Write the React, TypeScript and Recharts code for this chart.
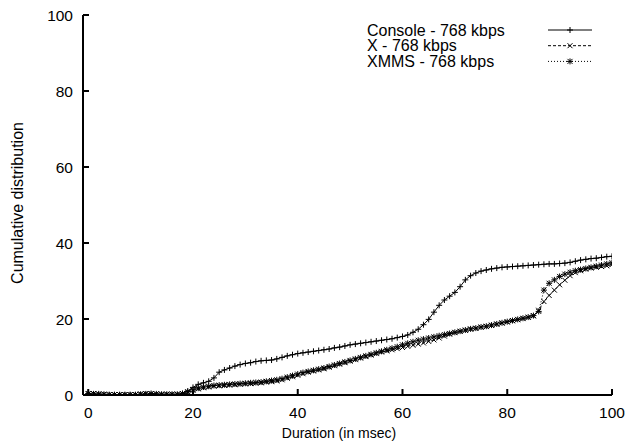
import React from 'react';
import { LineChart, Line, XAxis, YAxis, Customized } from 'recharts';

const FONT = "'Liberation Sans', Arial, Helvetica, sans-serif";

const durations: number[] = Array.from({ length: 101 }, (_, i) => i);

const consoleVals: number[] = [
  0.2, 0.1, 0.1, 0.0, 0.0, 0.0, 0.0, 0.0, 0.0, 0.0,
  0.0, 0.1, 0.1, 0.0, 0.0, 0.0, 0.0, 0.0, 0.3, 1.0,
  2.0, 2.8, 3.2, 3.6, 4.5, 6.0, 6.6, 7.1, 7.6, 8.0,
  8.3, 8.5, 8.8, 9.0, 9.1, 9.2, 9.5, 9.9, 10.3, 10.6,
  10.9, 11.1, 11.3, 11.5, 11.7, 11.9, 12.1, 12.4, 12.6, 12.9,
  13.2, 13.4, 13.6, 13.8, 14.0, 14.2, 14.4, 14.6, 14.8, 15.1,
  15.4, 15.8, 16.5, 17.3, 18.5, 19.9, 21.8, 23.6, 25.0, 26.0,
  27.0, 28.5, 30.3, 31.4, 32.1, 32.6, 32.9, 33.2, 33.4, 33.6,
  33.7, 33.8, 33.9, 34.0, 34.1, 34.2, 34.3, 34.4, 34.5, 34.5,
  34.6, 34.7, 34.9, 35.2, 35.5, 35.7, 35.9, 36.0, 36.2, 36.4, 36.5,
];

const xVals: number[] = [
  0.3, 0.4, 0.2, 0.2, 0.1, 0.1, 0.1, 0.1, 0.1, 0.1,
  0.3, 0.4, 0.3, 0.3, 0.2, 0.2, 0.2, 0.2, 0.3, 0.7,
  1.2, 1.6, 1.9, 2.1, 2.3, 2.4, 2.5, 2.6, 2.7, 2.8,
  2.9, 3.0, 3.1, 3.2, 3.4, 3.5, 3.7, 4.0, 4.4, 4.8,
  5.2, 5.6, 6.0, 6.3, 6.6, 6.9, 7.3, 7.7, 8.1, 8.5,
  8.9, 9.3, 9.7, 10.1, 10.5, 10.9, 11.3, 11.6, 11.9, 12.2,
  12.5, 12.8, 13.1, 13.4, 13.7, 14.1, 14.5, 15.0, 15.5, 16.0,
  16.4, 16.7, 17.0, 17.3, 17.5, 17.8, 18.0, 18.3, 18.6, 18.9,
  19.2, 19.5, 19.8, 20.1, 20.4, 20.8, 22.3, 24.6, 26.2, 27.6,
  29.0, 30.2, 31.4, 32.2, 32.7, 33.1, 33.4, 33.6, 33.8, 34.0, 34.3,
];

const xmmsVals: number[] = [
  0.4, 0.3, 0.3, 0.2, 0.1, 0.1, 0.1, 0.1, 0.1, 0.1,
  0.2, 0.3, 0.4, 0.3, 0.2, 0.2, 0.2, 0.2, 0.4, 0.9,
  1.4, 1.8, 2.1, 2.3, 2.5, 2.6, 2.7, 2.8, 2.9, 3.0,
  3.1, 3.2, 3.3, 3.4, 3.6, 3.8, 4.0, 4.3, 4.7, 5.1,
  5.5, 5.9, 6.2, 6.5, 6.8, 7.1, 7.5, 7.9, 8.3, 8.7,
  9.1, 9.5, 9.9, 10.3, 10.7, 11.1, 11.5, 11.9, 12.3, 12.7,
  13.2, 13.6, 14.0, 14.4, 14.7, 15.0, 15.3, 15.6, 15.9, 16.2,
  16.5, 16.8, 17.1, 17.4, 17.6, 17.9, 18.1, 18.4, 18.7, 19.0,
  19.3, 19.6, 19.9, 20.2, 20.5, 20.9, 22.0, 27.6, 29.4, 30.3,
  31.2, 31.8, 32.3, 32.7, 33.0, 33.3, 33.6, 33.9, 34.2, 34.5, 34.8,
];

const xTicks: number[] = [0, 20, 40, 60, 80, 100];
const yTicks: number[] = [0, 20, 40, 60, 80, 100];

const seriesNames = ['Console - 768 kbps', 'X - 768 kbps', 'XMMS - 768 kbps'];

const data = durations.map((d, i) => ({
  duration: d,
  console: consoleVals[i],
  x: xVals[i],
  xmms: xmmsVals[i],
}));

const plusPath = (cx: number, cy: number) => `M${cx - 3},${cy}h6M${cx},${cy - 3}v6`;
const crossPath = (cx: number, cy: number) =>
  `M${cx - 2.5},${cy - 2.5}l5,5M${cx - 2.5},${cy + 2.5}l5,-5`;
const starPath = (cx: number, cy: number) => plusPath(cx, cy) + crossPath(cx, cy);

const makeDot = (fn: (cx: number, cy: number) => string) => (p: any) => {
  const { cx, cy, index } = p;
  if (cx == null || cy == null || isNaN(cx) || isNaN(cy)) return <g key={`d${index}`} />;
  return <path key={`d${index}`} d={fn(cx, cy)} stroke="#000" strokeWidth={1} fill="none" />;
};

const LegendBox = () => {
  const rows = [
    { name: seriesNames[0], dash: undefined, fn: plusPath },
    { name: seriesNames[1], dash: '3 2', fn: crossPath },
    { name: seriesNames[2], dash: '1 2', fn: starPath },
  ];
  return (
    <g>
      {rows.map((r, i) => {
        const y = 30 + i * 15.7;
        return (
          <g key={r.name}>
            <text x={367} y={y + 5.5} fontSize={16} fontFamily={FONT} fill="#000">
              {r.name}
            </text>
            <line x1={548} x2={592} y1={y} y2={y} stroke="#000" strokeWidth={1} strokeDasharray={r.dash} />
            <path d={r.fn(570, y)} stroke="#000" strokeWidth={1} fill="none" />
          </g>
        );
      })}
      <text x={339} y={438} fontSize={14} fontFamily={FONT} fill="#000" textAnchor="middle">
        Duration (in msec)
      </text>
      <text
        x={0}
        y={0}
        fontSize={16}
        fontFamily={FONT}
        fill="#000"
        textAnchor="middle"
        transform="translate(23,203) rotate(-90)"
      >
        Cumulative distribution
      </text>
    </g>
  );
};

const tickStyle = { fill: '#000', fontSize: 15.5, fontFamily: FONT };

export default function App() {
  return (
    <div style={{ position: 'absolute', left: 0, top: 0, background: '#fff' }}>
      <LineChart
        width={628}
        height={441}
        data={data}
        margin={{ top: 15, right: 16, left: 0, bottom: 0 }}
        style={{ fontFamily: FONT }}
      >
        <XAxis
          type="number"
          dataKey="duration"
          domain={[-1, 100]}
          ticks={xTicks}
          allowDataOverflow
          height={46}
          tickSize={-6}
          tickMargin={18}
          stroke="#000"
          axisLine={{ stroke: '#000', strokeWidth: 2 }}
          tickLine={{ stroke: '#000', strokeWidth: 2 }}
          tick={tickStyle}
        />
        <XAxis
          xAxisId="top"
          orientation="top"
          type="number"
          domain={[-1, 100]}
          ticks={xTicks}
          allowDataOverflow
          height={0}
          tickSize={-6}
          tickFormatter={() => ''}
          axisLine={{ stroke: '#000', strokeWidth: 2 }}
          tickLine={{ stroke: '#000', strokeWidth: 2 }}
        />
        <YAxis
          type="number"
          domain={[0, 100]}
          ticks={yTicks}
          allowDataOverflow
          width={83}
          tickSize={-6}
          tickMargin={16}
          axisLine={{ stroke: '#000', strokeWidth: 2 }}
          tickLine={{ stroke: '#000', strokeWidth: 2 }}
          tick={tickStyle}
        />
        <YAxis
          yAxisId="right"
          orientation="right"
          type="number"
          domain={[0, 100]}
          ticks={yTicks}
          allowDataOverflow
          width={0}
          tickSize={-6}
          tickFormatter={() => ''}
          axisLine={{ stroke: '#000', strokeWidth: 2 }}
          tickLine={{ stroke: '#000', strokeWidth: 2 }}
        />
        <Line
          type="linear"
          dataKey="x"
          name={seriesNames[1]}
          stroke="#000"
          strokeWidth={1}
          strokeDasharray="3 2"
          dot={makeDot(crossPath)}
          activeDot={false}
          isAnimationActive={false}
        />
        <Line
          type="linear"
          dataKey="xmms"
          name={seriesNames[2]}
          stroke="#000"
          strokeWidth={1}
          strokeDasharray="1 2"
          dot={makeDot(starPath)}
          activeDot={false}
          isAnimationActive={false}
        />
        <Line
          type="linear"
          dataKey="console"
          name={seriesNames[0]}
          stroke="#000"
          strokeWidth={1}
          dot={makeDot(plusPath)}
          activeDot={false}
          isAnimationActive={false}
        />
        <Customized component={LegendBox} />
      </LineChart>
    </div>
  );
}
